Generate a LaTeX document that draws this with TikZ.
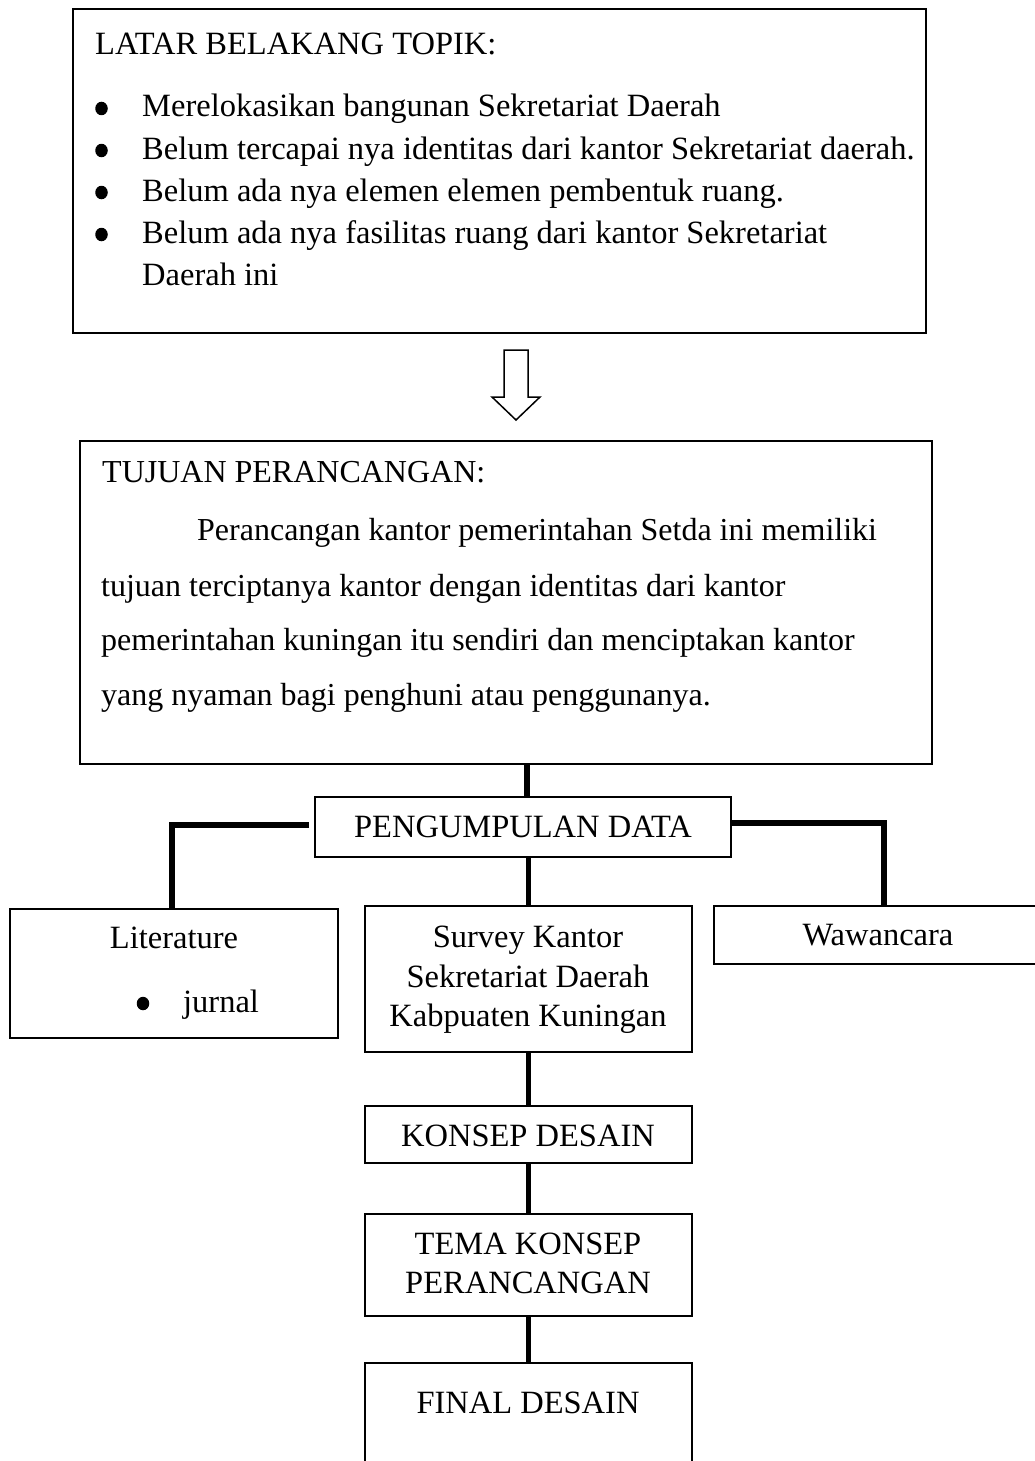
\documentclass[tikz,border=0pt]{standalone}
\usepackage{fontspec}
\setmainfont{Liberation Serif}
\usetikzlibrary{shapes.geometric}
\begin{document}
\begin{tikzpicture}[x=1pt,y=-1pt,
  bigbox/.style={draw, line width=2.5pt, inner sep=0pt, outer sep=0pt},
  smallbox/.style={draw, line width=2pt, inner sep=0pt, outer sep=0pt},
  txt/.style={inner sep=0pt, font=\fontsize{32.5}{38}\selectfont},
  ptxt/.style={inner sep=0pt, font=\fontsize{32}{38}\selectfont},
  dot/.style={ellipse, fill=black, inner sep=0pt, minimum width=12.5pt, minimum height=13.5pt},
  link/.style={line width=5.5pt},
  blockarrow/.style={draw, line width=1.5pt, fill=white, line join=miter}
  ]
\useasboundingbox (0,0) rectangle (1035,1461);
\fill[white] (0,0) rectangle (1035,1461);

% top box
\node[bigbox, minimum width=853pt, minimum height=324pt] (latar) at (499.5,171) {};
\node[txt, anchor=base west] (latarT) at (95,55) {LATAR BELAKANG TOPIK:};
\node[dot] (b1) at (101.5,108.5) {};
\node[dot] (b2) at (101.5,150.5) {};
\node[dot] (b3) at (101.5,192.5) {};
\node[dot] (b4) at (101.5,234.5) {};
\node[txt, anchor=base west] (l1) at (142,117) {Merelokasikan bangunan Sekretariat Daerah};
\node[txt, anchor=base west] (l2) at (142,159) {Belum tercapai nya identitas dari kantor Sekretariat daerah.};
\node[txt, anchor=base west] (l3) at (142,201) {Belum ada nya elemen elemen pembentuk ruang.};
\node[txt, anchor=base west] (l4) at (142,243) {Belum ada nya fasilitas ruang dari kantor Sekretariat};
\node[txt, anchor=base west] (l5) at (142,285) {Daerah ini};

% block arrow
\draw[blockarrow] (504,350) -- (528,350) -- (528,397) -- (540,397) -- (516,420) -- (492,397) -- (504,397) -- cycle;

% second box
\node[bigbox, minimum width=852pt, minimum height=323pt] (tujuan) at (506,602.5) {};
\node[ptxt, anchor=base west] (tujuanT) at (102,482) {TUJUAN PERANCANGAN:};
\node[ptxt, anchor=base west] (p1) at (197,540) {Perancangan kantor pemerintahan Setda ini memiliki};
\node[ptxt, anchor=base west] (p2) at (101,596) {tujuan terciptanya kantor dengan identitas dari kantor};
\node[ptxt, anchor=base west] (p3) at (101,650) {pemerintahan kuningan itu sendiri dan menciptakan kantor};
\node[ptxt, anchor=base west] (p4) at (101,705) {yang nyaman bagi penghuni atau penggunanya.};

% pengumpulan data
\node[smallbox, minimum width=416pt, minimum height=60pt] (peng) at (523,827) {};
\node[txt, anchor=base] (pengT) at (523,837) {PENGUMPULAN DATA};

% three branches
\node[smallbox, minimum width=328pt, minimum height=129pt] (lit) at (174,973.5) {};
\node[txt, anchor=base] (litT) at (174,948) {Literature};
\node[dot] (litB) at (143,1003.5) {};
\node[txt, anchor=base west] (litJ) at (183,1012) {jurnal};

\node[smallbox, minimum width=327pt, minimum height=146pt] (survey) at (528.5,979) {};
\node[txt, anchor=base] (s1) at (528,947) {Survey Kantor};
\node[txt, anchor=base] (s2) at (528,987) {Sekretariat Daerah};
\node[txt, anchor=base] (s3) at (528,1026) {Kabpuaten Kuningan};

\node[smallbox, minimum width=340pt, minimum height=58pt] (waw) at (884,935) {};
\node[txt, anchor=base] (wawT) at (878,945) {Wawancara};

% lower chain
\node[smallbox, minimum width=327pt, minimum height=57pt] (konsep) at (528.5,1134.5) {};
\node[txt, anchor=base] (konsepT) at (528,1146) {KONSEP DESAIN};

\node[smallbox, minimum width=327pt, minimum height=102pt] (tema) at (528.5,1265) {};
\node[txt, anchor=base] (tema1) at (528,1254) {TEMA KONSEP};
\node[txt, anchor=base] (tema2) at (528,1293) {PERANCANGAN};

\node[smallbox, minimum width=327pt, minimum height=137pt] (final) at (528.5,1431.5) {};
\node[txt, anchor=base] (finalT) at (528,1413) {FINAL DESAIN};

% connectors
\draw[link] ([xshift=4pt]peng.north |- tujuan.south) -- ([xshift=4pt]peng.north);
\draw[link] ([xshift=-6pt,yshift=2pt]peng.west) -| ([xshift=-2pt]lit.north);
\draw[link] ([yshift=4pt]peng.east) -| (waw.north);
\draw[link] (survey.north |- peng.south) -- (survey.north);
\draw[link] (survey.south) -- (konsep.north);
\draw[link] (konsep.south) -- (tema.north);
\draw[link] (tema.south) -- (final.north);
\end{tikzpicture}
\end{document}
